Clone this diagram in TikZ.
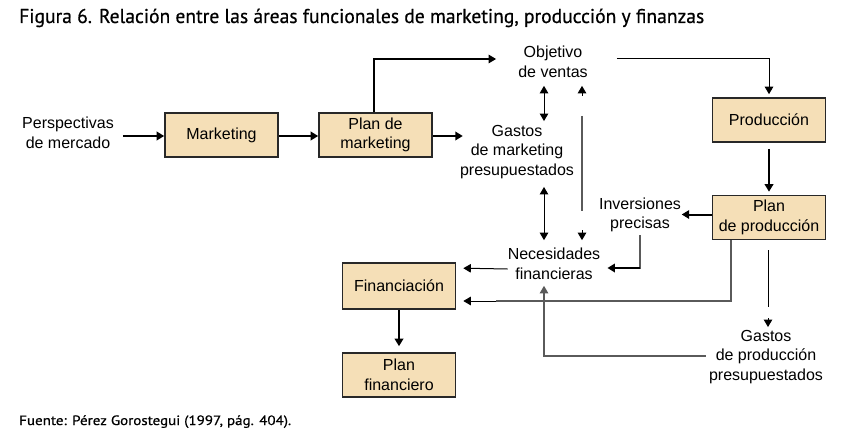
\documentclass[tikz,border=0pt]{standalone}
\usepackage{fontspec}
\setmainfont{Liberation Sans}
\newfontfamily\titlefont[FakeBold=0.6]{PT Sans}
\usetikzlibrary{arrows.meta,calc}
\definecolor{boxfill}{RGB}{245,223,183}
\definecolor{boxline}{RGB}{40,40,40}
\definecolor{lgray}{RGB}{90,90,90}
\begin{document}
\begin{tikzpicture}[x=1pt,y=-1pt,
  every node/.style={font=\fontsize{16}{19.5}\selectfont},
  fbox/.style={draw=boxline,line width=1.6pt,fill=boxfill,minimum width=113pt,minimum height=44pt,inner sep=0pt,align=center},
  lbl/.style={inner sep=0pt,align=center},
  tip/.style={-{Triangle[length=7.5pt,width=8.5pt]}},
  dtip/.style={{Triangle[length=7.5pt,width=8.5pt]}-{Triangle[length=7.5pt,width=8.5pt]}},
  thk/.style={tip,line width=2pt},
  med/.style={tip,line width=1.4pt},
  thn/.style={tip,line width=1pt},
  gry/.style={line width=1.1pt,draw=lgray},
]
\useasboundingbox (0,0) rectangle (850,441);
% title and source
\node[anchor=base west,inner sep=0pt] (title) at (19,23)
  {\resizebox{685pt}{\height}{\titlefont\fontsize{20}{22}\selectfont Figura 6. Relación entre las áreas funcionales de marketing, producción y finanzas}};
\node[anchor=base west,inner sep=0pt] (src) at (19,425)
  {\resizebox{272pt}{\height}{\titlefont\fontsize{13.5}{15}\selectfont Fuente: Pérez Gorostegui (1997, pág. 404).}};
% boxes
\node[fbox] (mkt) at (221.5,135) {Marketing};
\node[fbox] (planmkt) at (375.5,135) {Plan de\\marketing};
\node[fbox] (prod) at (769,120) {Producción};
\node[fbox] (planprod) at (769,217.5) {Plan\\de producción};
\node[fbox,minimum height=46pt] (fin) at (399,286) {Financiación};
\node[fbox] (planfin) at (399,375) {Plan\\financiero};
% text labels
\node[lbl] (persp) at (68,133) {Perspectivas\\de mercado};
\node[lbl] (obj) at (553,62) {Objetivo\\de ventas};
\node[lbl] (gmkt) at (517,152) {Gastos\\de marketing\\presupuestados};
\node[lbl] (inv) at (640,215) {Inversiones\\precisas};
\node[lbl] (nec) at (554,264) {Necesidades\\financieras};
\node[lbl] (gprod) at (766,357) {Gastos\\de producción\\presupuestados};
% connectors
\draw[thk] ($(persp.east |- mkt.west)+(9,1)$) -- ($(mkt.west)+(0,1)$);
\draw[thk] ($(mkt.east)+(0,1)$) -- ($(planmkt.west)+(0,1)$);
\draw[thk] ($(planmkt.east)+(0,1)$) -- ++(30,0);
\draw[med] ($(planmkt.north)+(-1.5,0)$) |- ($(obj.west)+(-22,-3)$);
\draw[thn] ($(obj.east)+(29,-3)$) -| ($(prod.north)+(0,-3)$);
\draw[thk] ($(prod.south)+(0,6)$) -- ($(planprod.north)+(0,-3)$);
\draw[thk] ($(planprod.west)+(0,-3)$) -- ++(-30,0);
\draw[gry] ($(inv.south)+(0,3)$) |- coordinate (invbend) ($(nec.east)+(40,4)$);
\draw[thk] ($(nec.east)+(40,4)$) -- ($(nec.east)+(7,4)$);
\draw[thn] ($(nec.west)+(0,5)$) -- ($(fin.north east)+(7,6)$);
\draw[gry] ($(planprod.south)+(-38,0)$) |- coordinate (ppbend) ($(fin.east)+(40,15)$);
\draw[thn] ($(fin.east)+(40,15)$) -- ($(fin.east)+(7,15)$);
\draw[thk] (fin.south) -- ($(planfin.north)+(0,-6)$);
% production -> gastos de produccion (line with gap before tip)
\draw[thn,-] ($(planprod.south)+(-1,10)$) -- ($(planprod.south |- gprod.north)+(-1,-23)$);
\draw[thn] ($(planprod.south |- gprod.north)+(-1,-12)$) -- ($(planprod.south |- gprod.north)+(-1,-3)$);
\draw[gry,tip] ($(gprod.west)+(-3,-1)$) -| ($(nec.south)+(-10,6)$);
% double arrows
\draw[thn,dtip] ($(obj.south)+(-9,8)$) -- ($(obj.south |- gmkt.north)+(-9,-4)$);
\draw[thn,dtip] ($(gmkt.south)+(27,8)$) -- ($(gmkt.south |- nec.north)+(27,-8)$);
% right vertical line with separated tips
\draw[gry] ($(obj.south)+(29,38)$) -- ($(obj.south |- nec.north)+(29,-37)$);
\draw[thn] ($(obj.south)+(29,18)$) -- ($(obj.south)+(29,8)$);
\draw[thn] ($(obj.south |- nec.north)+(29,-18)$) -- ($(obj.south |- nec.north)+(29,-8)$);
\end{tikzpicture}
\end{document}
